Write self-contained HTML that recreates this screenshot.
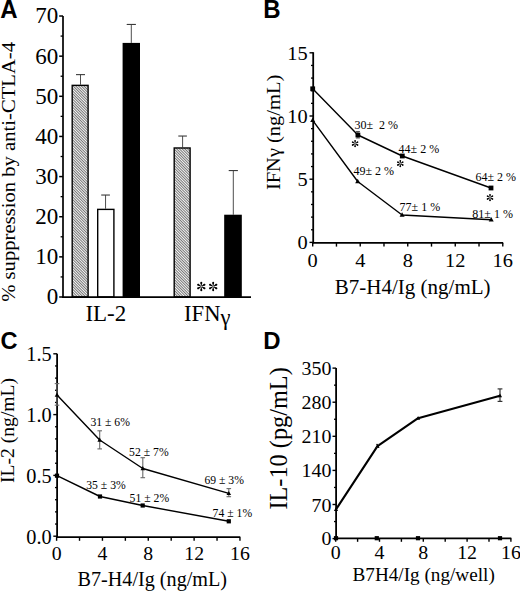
<!DOCTYPE html>
<html><head><meta charset="utf-8"><title>Figure</title>
<style>
html,body{margin:0;padding:0;background:#fff;}
body{width:520px;height:591px;overflow:hidden;}
svg{display:block;}
</style></head><body>
<svg width="520" height="591" viewBox="0 0 520 591" font-family="Liberation Serif, serif">
<defs>
<pattern id="hatch" patternUnits="userSpaceOnUse" width="1.92" height="4" patternTransform="rotate(-45)">
<rect width="1.92" height="4" fill="#f4f4f4"/>
<rect width="0.85" height="4" fill="#666"/>
</pattern>
</defs>
<rect width="520" height="591" fill="#fff"/>
<text transform="translate(0.3 17.8) scale(1 1.05)" font-size="24" font-family="Liberation Sans, sans-serif" font-weight="bold">A</text>
<line x1="80.5" y1="84.66" x2="80.5" y2="74.62" stroke="#3a3a3a" stroke-width="0.9"/>
<line x1="76" y1="74.62" x2="85" y2="74.62" stroke="#3a3a3a" stroke-width="1.1"/>
<rect x="72.2" y="85.36" width="15.9" height="211.64" fill="url(#hatch)" stroke="#000" stroke-width="1.4"/>
<line x1="105.55" y1="208.69" x2="105.55" y2="195.04" stroke="#3a3a3a" stroke-width="0.9"/>
<line x1="101.2" y1="195.04" x2="109.9" y2="195.04" stroke="#3a3a3a" stroke-width="1.1"/>
<rect x="97.7" y="209.39" width="16.2" height="87.61" fill="#fff" stroke="#000" stroke-width="1.4"/>
<line x1="131.3" y1="42.91" x2="131.3" y2="24.45" stroke="#3a3a3a" stroke-width="0.9"/>
<line x1="126.7" y1="24.45" x2="135.9" y2="24.45" stroke="#3a3a3a" stroke-width="1.1"/>
<rect x="123.3" y="43.61" width="16" height="253.39" fill="#000" stroke="#000" stroke-width="1.4"/>
<line x1="182.6" y1="147.28" x2="182.6" y2="136.04" stroke="#3a3a3a" stroke-width="0.9"/>
<line x1="178.3" y1="136.04" x2="186.9" y2="136.04" stroke="#3a3a3a" stroke-width="1.1"/>
<rect x="174.2" y="147.98" width="15.9" height="149.02" fill="url(#hatch)" stroke="#000" stroke-width="1.4"/>
<line x1="233.3" y1="214.71" x2="233.3" y2="170.56" stroke="#3a3a3a" stroke-width="0.9"/>
<line x1="228.7" y1="170.56" x2="237.9" y2="170.56" stroke="#3a3a3a" stroke-width="1.1"/>
<rect x="224.9" y="215.41" width="16.2" height="81.59" fill="#000" stroke="#000" stroke-width="1.4"/>
<line x1="63" y1="16" x2="63" y2="298" stroke="#000" stroke-width="1.7"/>
<line x1="62.2" y1="297.2" x2="251" y2="297.2" stroke="#000" stroke-width="1.8"/>
<line x1="59.2" y1="297" x2="63" y2="297" stroke="#000" stroke-width="1.5"/>
<text transform="translate(58.2 304.4) scale(1 1.04)" font-size="23" text-anchor="end">0</text>
<line x1="59.2" y1="256.86" x2="63" y2="256.86" stroke="#000" stroke-width="1.5"/>
<text transform="translate(58.2 264.26) scale(1 1.04)" font-size="23" text-anchor="end">10</text>
<line x1="59.2" y1="216.72" x2="63" y2="216.72" stroke="#000" stroke-width="1.5"/>
<text transform="translate(58.2 224.12) scale(1 1.04)" font-size="23" text-anchor="end">20</text>
<line x1="59.2" y1="176.58" x2="63" y2="176.58" stroke="#000" stroke-width="1.5"/>
<text transform="translate(58.2 183.98) scale(1 1.04)" font-size="23" text-anchor="end">30</text>
<line x1="59.2" y1="136.44" x2="63" y2="136.44" stroke="#000" stroke-width="1.5"/>
<text transform="translate(58.2 143.84) scale(1 1.04)" font-size="23" text-anchor="end">40</text>
<line x1="59.2" y1="96.3" x2="63" y2="96.3" stroke="#000" stroke-width="1.5"/>
<text transform="translate(58.2 103.7) scale(1 1.04)" font-size="23" text-anchor="end">50</text>
<line x1="59.2" y1="56.16" x2="63" y2="56.16" stroke="#000" stroke-width="1.5"/>
<text transform="translate(58.2 63.56) scale(1 1.04)" font-size="23" text-anchor="end">60</text>
<line x1="59.2" y1="16.02" x2="63" y2="16.02" stroke="#000" stroke-width="1.5"/>
<text transform="translate(58.2 23.42) scale(1 1.04)" font-size="23" text-anchor="end">70</text>
<line x1="60.6" y1="276.93" x2="63" y2="276.93" stroke="#000" stroke-width="1.3"/>
<line x1="60.6" y1="236.79" x2="63" y2="236.79" stroke="#000" stroke-width="1.3"/>
<line x1="60.6" y1="196.65" x2="63" y2="196.65" stroke="#000" stroke-width="1.3"/>
<line x1="60.6" y1="156.51" x2="63" y2="156.51" stroke="#000" stroke-width="1.3"/>
<line x1="60.6" y1="116.37" x2="63" y2="116.37" stroke="#000" stroke-width="1.3"/>
<line x1="60.6" y1="76.23" x2="63" y2="76.23" stroke="#000" stroke-width="1.3"/>
<line x1="60.6" y1="36.09" x2="63" y2="36.09" stroke="#000" stroke-width="1.3"/>
<g transform="translate(201.3 286.5) scale(1 1)" fill="#000">
<g transform="rotate(-90)"><polygon points="0.4,-0.22 3.75,-0.95 3.75,0.95 0.4,0.22"/><circle cx="3.75" cy="0" r="0.95"/></g>
<g transform="rotate(90)"><polygon points="0.4,-0.22 3.75,-0.95 3.75,0.95 0.4,0.22"/><circle cx="3.75" cy="0" r="0.95"/></g>
<g transform="rotate(-30)"><polygon points="0.4,-0.22 3.75,-0.95 3.75,0.95 0.4,0.22"/><circle cx="3.75" cy="0" r="0.95"/></g>
<g transform="rotate(30)"><polygon points="0.4,-0.22 3.75,-0.95 3.75,0.95 0.4,0.22"/><circle cx="3.75" cy="0" r="0.95"/></g>
<g transform="rotate(150)"><polygon points="0.4,-0.22 3.75,-0.95 3.75,0.95 0.4,0.22"/><circle cx="3.75" cy="0" r="0.95"/></g>
<g transform="rotate(210)"><polygon points="0.4,-0.22 3.75,-0.95 3.75,0.95 0.4,0.22"/><circle cx="3.75" cy="0" r="0.95"/></g>
</g>
<g transform="translate(213.2 286.5) scale(1 1)" fill="#000">
<g transform="rotate(-90)"><polygon points="0.4,-0.22 3.75,-0.95 3.75,0.95 0.4,0.22"/><circle cx="3.75" cy="0" r="0.95"/></g>
<g transform="rotate(90)"><polygon points="0.4,-0.22 3.75,-0.95 3.75,0.95 0.4,0.22"/><circle cx="3.75" cy="0" r="0.95"/></g>
<g transform="rotate(-30)"><polygon points="0.4,-0.22 3.75,-0.95 3.75,0.95 0.4,0.22"/><circle cx="3.75" cy="0" r="0.95"/></g>
<g transform="rotate(30)"><polygon points="0.4,-0.22 3.75,-0.95 3.75,0.95 0.4,0.22"/><circle cx="3.75" cy="0" r="0.95"/></g>
<g transform="rotate(150)"><polygon points="0.4,-0.22 3.75,-0.95 3.75,0.95 0.4,0.22"/><circle cx="3.75" cy="0" r="0.95"/></g>
<g transform="rotate(210)"><polygon points="0.4,-0.22 3.75,-0.95 3.75,0.95 0.4,0.22"/><circle cx="3.75" cy="0" r="0.95"/></g>
</g>
<text transform="translate(85.4 321.2)" font-size="23">IL-2</text>
<text transform="translate(184.1 321.2)" font-size="22.6">IFN<tspan dy="3.5">&#947;</tspan></text>
<text transform="translate(14.6 301.8) rotate(-90) scale(1.06 1)" font-size="19.5">% suppression by anti-CTLA-4</text>
<text transform="translate(263.3 17.6) scale(1 1.06)" font-size="24" font-family="Liberation Sans, sans-serif" font-weight="bold">B</text>
<line x1="313.2" y1="52.2" x2="313.2" y2="243.4" stroke="#000" stroke-width="1.8"/>
<line x1="312.3" y1="242.9" x2="503.2" y2="242.9" stroke="#000" stroke-width="1.8"/>
<line x1="309.5" y1="242.4" x2="313.2" y2="242.4" stroke="#000" stroke-width="1.4"/>
<text transform="translate(307.6 249.2) scale(1.05 1)" font-size="19.4" text-anchor="end">0</text>
<line x1="311" y1="229.76" x2="313.2" y2="229.76" stroke="#000" stroke-width="1.3"/>
<line x1="311" y1="217.12" x2="313.2" y2="217.12" stroke="#000" stroke-width="1.3"/>
<line x1="311" y1="204.48" x2="313.2" y2="204.48" stroke="#000" stroke-width="1.3"/>
<line x1="311" y1="191.84" x2="313.2" y2="191.84" stroke="#000" stroke-width="1.3"/>
<line x1="309.5" y1="179.2" x2="313.2" y2="179.2" stroke="#000" stroke-width="1.4"/>
<text transform="translate(307.6 186) scale(1.05 1)" font-size="19.4" text-anchor="end">5</text>
<line x1="311" y1="166.56" x2="313.2" y2="166.56" stroke="#000" stroke-width="1.3"/>
<line x1="311" y1="153.92" x2="313.2" y2="153.92" stroke="#000" stroke-width="1.3"/>
<line x1="311" y1="141.28" x2="313.2" y2="141.28" stroke="#000" stroke-width="1.3"/>
<line x1="311" y1="128.64" x2="313.2" y2="128.64" stroke="#000" stroke-width="1.3"/>
<line x1="309.5" y1="116" x2="313.2" y2="116" stroke="#000" stroke-width="1.4"/>
<text transform="translate(307.6 122.8) scale(1.05 1)" font-size="19.4" text-anchor="end">10</text>
<line x1="311" y1="103.36" x2="313.2" y2="103.36" stroke="#000" stroke-width="1.3"/>
<line x1="311" y1="90.72" x2="313.2" y2="90.72" stroke="#000" stroke-width="1.3"/>
<line x1="311" y1="78.08" x2="313.2" y2="78.08" stroke="#000" stroke-width="1.3"/>
<line x1="311" y1="65.44" x2="313.2" y2="65.44" stroke="#000" stroke-width="1.3"/>
<line x1="309.5" y1="52.8" x2="313.2" y2="52.8" stroke="#000" stroke-width="1.4"/>
<text transform="translate(307.6 59.6) scale(1.05 1)" font-size="19.4" text-anchor="end">15</text>
<line x1="312.7" y1="242.9" x2="312.7" y2="246.6" stroke="#000" stroke-width="1.4"/>
<text transform="translate(312.7 266.6) scale(1.05 1)" font-size="19.4" text-anchor="middle">0</text>
<line x1="336.46" y1="242.9" x2="336.46" y2="246.6" stroke="#000" stroke-width="1.4"/>
<line x1="360.22" y1="242.9" x2="360.22" y2="246.6" stroke="#000" stroke-width="1.4"/>
<text transform="translate(360.22 266.6) scale(1.05 1)" font-size="19.4" text-anchor="middle">4</text>
<line x1="383.98" y1="242.9" x2="383.98" y2="246.6" stroke="#000" stroke-width="1.4"/>
<line x1="407.74" y1="242.9" x2="407.74" y2="246.6" stroke="#000" stroke-width="1.4"/>
<text transform="translate(407.74 266.6) scale(1.05 1)" font-size="19.4" text-anchor="middle">8</text>
<line x1="431.5" y1="242.9" x2="431.5" y2="246.6" stroke="#000" stroke-width="1.4"/>
<line x1="455.26" y1="242.9" x2="455.26" y2="246.6" stroke="#000" stroke-width="1.4"/>
<text transform="translate(455.26 266.6) scale(1.05 1)" font-size="19.4" text-anchor="middle">12</text>
<line x1="479.02" y1="242.9" x2="479.02" y2="246.6" stroke="#000" stroke-width="1.4"/>
<line x1="502.78" y1="242.9" x2="502.78" y2="246.6" stroke="#000" stroke-width="1.4"/>
<text transform="translate(502.78 266.6) scale(1.05 1)" font-size="19.4" text-anchor="middle">16</text>
<text transform="translate(334.8 293.9) scale(1.02 1)" font-size="20.6">B7-H4/Ig (ng/mL)</text>
<text transform="translate(280 190.1) rotate(-90) scale(1.05 1)" font-size="19.5">IFN&#947; (ng/mL)</text>
<polyline fill="none" stroke="#000" stroke-width="1.4" stroke-linejoin="round" points="312.7,88.8 357.9,135 402.3,156 491,188"/>
<polyline fill="none" stroke="#000" stroke-width="1.4" stroke-linejoin="round" points="312.7,120.3 357.7,181.5 402.1,215 491.2,219.8"/>
<line x1="357.9" y1="131.5" x2="357.9" y2="138" stroke="#555" stroke-width="1"/>
<line x1="355.9" y1="131.5" x2="359.9" y2="131.5" stroke="#555" stroke-width="1"/>
<line x1="355.9" y1="138" x2="359.9" y2="138" stroke="#555" stroke-width="1"/>
<rect x="310.3" y="86.4" width="4.8" height="4.8" fill="#000"/>
<rect x="355.5" y="132.6" width="4.8" height="4.8" fill="#000"/>
<rect x="399.9" y="153.6" width="4.8" height="4.8" fill="#000"/>
<rect x="488.6" y="185.6" width="4.8" height="4.8" fill="#000"/>
<polygon points="312.7,117.6 310.2,122.1 315.2,122.1" fill="#000"/>
<polygon points="357.7,178.8 355.2,183.3 360.2,183.3" fill="#000"/>
<polygon points="402.1,212.3 399.6,216.8 404.6,216.8" fill="#000"/>
<polygon points="491.2,217.1 488.7,221.6 493.7,221.6" fill="#000"/>
<text transform="translate(354.4 128.9)" font-size="12">30±&#160; 2 %</text>
<text transform="translate(398.6 152.7)" font-size="12">44± 2 %</text>
<text transform="translate(475.4 180.9)" font-size="12">64± 2 %</text>
<text transform="translate(353.4 174.7)" font-size="12">49± 2 %</text>
<text transform="translate(399.6 211.1)" font-size="12">77± 1 %</text>
<text transform="translate(472.3 217.5)" font-size="12">81± 1 %</text>
<g transform="translate(355.1 143.6) scale(1 1)" fill="#000">
<g transform="rotate(-90)"><polygon points="0.4,-0.22 2.9,-0.8 2.9,0.8 0.4,0.22"/><circle cx="2.9" cy="0" r="0.8"/></g>
<g transform="rotate(90)"><polygon points="0.4,-0.22 2.9,-0.8 2.9,0.8 0.4,0.22"/><circle cx="2.9" cy="0" r="0.8"/></g>
<g transform="rotate(-30)"><polygon points="0.4,-0.22 2.9,-0.8 2.9,0.8 0.4,0.22"/><circle cx="2.9" cy="0" r="0.8"/></g>
<g transform="rotate(30)"><polygon points="0.4,-0.22 2.9,-0.8 2.9,0.8 0.4,0.22"/><circle cx="2.9" cy="0" r="0.8"/></g>
<g transform="rotate(150)"><polygon points="0.4,-0.22 2.9,-0.8 2.9,0.8 0.4,0.22"/><circle cx="2.9" cy="0" r="0.8"/></g>
<g transform="rotate(210)"><polygon points="0.4,-0.22 2.9,-0.8 2.9,0.8 0.4,0.22"/><circle cx="2.9" cy="0" r="0.8"/></g>
</g>
<g transform="translate(400.3 163.6) scale(1 1)" fill="#000">
<g transform="rotate(-90)"><polygon points="0.4,-0.22 2.9,-0.8 2.9,0.8 0.4,0.22"/><circle cx="2.9" cy="0" r="0.8"/></g>
<g transform="rotate(90)"><polygon points="0.4,-0.22 2.9,-0.8 2.9,0.8 0.4,0.22"/><circle cx="2.9" cy="0" r="0.8"/></g>
<g transform="rotate(-30)"><polygon points="0.4,-0.22 2.9,-0.8 2.9,0.8 0.4,0.22"/><circle cx="2.9" cy="0" r="0.8"/></g>
<g transform="rotate(30)"><polygon points="0.4,-0.22 2.9,-0.8 2.9,0.8 0.4,0.22"/><circle cx="2.9" cy="0" r="0.8"/></g>
<g transform="rotate(150)"><polygon points="0.4,-0.22 2.9,-0.8 2.9,0.8 0.4,0.22"/><circle cx="2.9" cy="0" r="0.8"/></g>
<g transform="rotate(210)"><polygon points="0.4,-0.22 2.9,-0.8 2.9,0.8 0.4,0.22"/><circle cx="2.9" cy="0" r="0.8"/></g>
</g>
<g transform="translate(490 197.6) scale(1 1)" fill="#000">
<g transform="rotate(-90)"><polygon points="0.4,-0.22 2.9,-0.8 2.9,0.8 0.4,0.22"/><circle cx="2.9" cy="0" r="0.8"/></g>
<g transform="rotate(90)"><polygon points="0.4,-0.22 2.9,-0.8 2.9,0.8 0.4,0.22"/><circle cx="2.9" cy="0" r="0.8"/></g>
<g transform="rotate(-30)"><polygon points="0.4,-0.22 2.9,-0.8 2.9,0.8 0.4,0.22"/><circle cx="2.9" cy="0" r="0.8"/></g>
<g transform="rotate(30)"><polygon points="0.4,-0.22 2.9,-0.8 2.9,0.8 0.4,0.22"/><circle cx="2.9" cy="0" r="0.8"/></g>
<g transform="rotate(150)"><polygon points="0.4,-0.22 2.9,-0.8 2.9,0.8 0.4,0.22"/><circle cx="2.9" cy="0" r="0.8"/></g>
<g transform="rotate(210)"><polygon points="0.4,-0.22 2.9,-0.8 2.9,0.8 0.4,0.22"/><circle cx="2.9" cy="0" r="0.8"/></g>
</g>
<text transform="translate(0.6 348.5) scale(1 1.04)" font-size="23.6" font-family="Liberation Sans, sans-serif" font-weight="bold">C</text>
<line x1="57.1" y1="353.8" x2="57.1" y2="538" stroke="#000" stroke-width="1.8"/>
<line x1="56.2" y1="537.2" x2="240.3" y2="537.2" stroke="#000" stroke-width="1.8"/>
<line x1="53.3" y1="536.2" x2="57.1" y2="536.2" stroke="#000" stroke-width="1.4"/>
<text transform="translate(51.6 543.5) scale(0.99 1)" font-size="20.5" text-anchor="end">0.0</text>
<line x1="55" y1="524.04" x2="57.1" y2="524.04" stroke="#000" stroke-width="1.3"/>
<line x1="55" y1="511.88" x2="57.1" y2="511.88" stroke="#000" stroke-width="1.3"/>
<line x1="55" y1="499.72" x2="57.1" y2="499.72" stroke="#000" stroke-width="1.3"/>
<line x1="55" y1="487.56" x2="57.1" y2="487.56" stroke="#000" stroke-width="1.3"/>
<line x1="53.3" y1="475.4" x2="57.1" y2="475.4" stroke="#000" stroke-width="1.4"/>
<text transform="translate(51.6 482.7) scale(0.99 1)" font-size="20.5" text-anchor="end">0.5</text>
<line x1="55" y1="463.24" x2="57.1" y2="463.24" stroke="#000" stroke-width="1.3"/>
<line x1="55" y1="451.08" x2="57.1" y2="451.08" stroke="#000" stroke-width="1.3"/>
<line x1="55" y1="438.92" x2="57.1" y2="438.92" stroke="#000" stroke-width="1.3"/>
<line x1="55" y1="426.76" x2="57.1" y2="426.76" stroke="#000" stroke-width="1.3"/>
<line x1="53.3" y1="414.6" x2="57.1" y2="414.6" stroke="#000" stroke-width="1.4"/>
<text transform="translate(51.6 421.9) scale(0.99 1)" font-size="20.5" text-anchor="end">1.0</text>
<line x1="55" y1="402.44" x2="57.1" y2="402.44" stroke="#000" stroke-width="1.3"/>
<line x1="55" y1="390.28" x2="57.1" y2="390.28" stroke="#000" stroke-width="1.3"/>
<line x1="55" y1="378.12" x2="57.1" y2="378.12" stroke="#000" stroke-width="1.3"/>
<line x1="55" y1="365.96" x2="57.1" y2="365.96" stroke="#000" stroke-width="1.3"/>
<line x1="53.3" y1="353.8" x2="57.1" y2="353.8" stroke="#000" stroke-width="1.4"/>
<text transform="translate(51.6 361.1) scale(0.99 1)" font-size="20.5" text-anchor="end">1.5</text>
<line x1="56.6" y1="537.2" x2="56.6" y2="540.8" stroke="#000" stroke-width="1.4"/>
<text transform="translate(56.6 559.8) scale(1.02 1)" font-size="19.4" text-anchor="middle">0</text>
<line x1="79.52" y1="537.2" x2="79.52" y2="540.8" stroke="#000" stroke-width="1.4"/>
<line x1="102.44" y1="537.2" x2="102.44" y2="540.8" stroke="#000" stroke-width="1.4"/>
<text transform="translate(102.44 559.8) scale(1.02 1)" font-size="19.4" text-anchor="middle">4</text>
<line x1="125.36" y1="537.2" x2="125.36" y2="540.8" stroke="#000" stroke-width="1.4"/>
<line x1="148.28" y1="537.2" x2="148.28" y2="540.8" stroke="#000" stroke-width="1.4"/>
<text transform="translate(148.28 559.8) scale(1.02 1)" font-size="19.4" text-anchor="middle">8</text>
<line x1="171.2" y1="537.2" x2="171.2" y2="540.8" stroke="#000" stroke-width="1.4"/>
<line x1="194.12" y1="537.2" x2="194.12" y2="540.8" stroke="#000" stroke-width="1.4"/>
<text transform="translate(194.12 559.8) scale(1.02 1)" font-size="19.4" text-anchor="middle">12</text>
<line x1="217.04" y1="537.2" x2="217.04" y2="540.8" stroke="#000" stroke-width="1.4"/>
<line x1="239.96" y1="537.2" x2="239.96" y2="540.8" stroke="#000" stroke-width="1.4"/>
<text transform="translate(239.96 559.8) scale(1.02 1)" font-size="19.4" text-anchor="middle">16</text>
<text transform="translate(77.5 586.4) scale(0.98 1)" font-size="20.6">B7-H4/Ig (ng/mL)</text>
<text transform="translate(14 482.9) rotate(-90) scale(1.01 1)" font-size="19.4">IL-2 (ng/mL)</text>
<polyline fill="none" stroke="#000" stroke-width="1.4" stroke-linejoin="round" points="57,395.1 99.7,440 142.8,468.5 228.8,493.4"/>
<polyline fill="none" stroke="#000" stroke-width="1.4" stroke-linejoin="round" points="57,475.7 100,496.5 142.7,505.5 228.8,521.3"/>
<line x1="57" y1="383.6" x2="57" y2="405.2" stroke="#6a6a6a" stroke-width="1.1"/>
<line x1="54.7" y1="383.6" x2="59.3" y2="383.6" stroke="#6a6a6a" stroke-width="1.1"/>
<line x1="54.7" y1="405.2" x2="59.3" y2="405.2" stroke="#6a6a6a" stroke-width="1.1"/>
<line x1="99.7" y1="430.8" x2="99.7" y2="448.9" stroke="#6a6a6a" stroke-width="1.1"/>
<line x1="97.4" y1="430.8" x2="102" y2="430.8" stroke="#6a6a6a" stroke-width="1.1"/>
<line x1="97.4" y1="448.9" x2="102" y2="448.9" stroke="#6a6a6a" stroke-width="1.1"/>
<line x1="142.8" y1="457.7" x2="142.8" y2="477.7" stroke="#6a6a6a" stroke-width="1.1"/>
<line x1="140.5" y1="457.7" x2="145.1" y2="457.7" stroke="#6a6a6a" stroke-width="1.1"/>
<line x1="140.5" y1="477.7" x2="145.1" y2="477.7" stroke="#6a6a6a" stroke-width="1.1"/>
<line x1="228.8" y1="488.6" x2="228.8" y2="496.7" stroke="#6a6a6a" stroke-width="1.1"/>
<line x1="226.5" y1="488.6" x2="231.1" y2="488.6" stroke="#6a6a6a" stroke-width="1.1"/>
<line x1="226.5" y1="496.7" x2="231.1" y2="496.7" stroke="#6a6a6a" stroke-width="1.1"/>
<polygon points="57,392.62 54.7,396.76 59.3,396.76" fill="#000"/>
<polygon points="99.7,437.52 97.4,441.66 102,441.66" fill="#000"/>
<polygon points="142.8,466.02 140.5,470.16 145.1,470.16" fill="#000"/>
<polygon points="228.8,490.92 226.5,495.06 231.1,495.06" fill="#000"/>
<rect x="54.9" y="473.6" width="4.2" height="4.2" fill="#000"/>
<rect x="97.9" y="494.4" width="4.2" height="4.2" fill="#000"/>
<rect x="140.6" y="503.4" width="4.2" height="4.2" fill="#000"/>
<rect x="226.7" y="519.2" width="4.2" height="4.2" fill="#000"/>
<text transform="translate(90.4 426)" font-size="11.7">31 ± 6%</text>
<text transform="translate(129.1 456)" font-size="11.7">52 ± 7%</text>
<text transform="translate(204.4 483.8)" font-size="11.7">69 ± 3%</text>
<text transform="translate(86.2 489.3)" font-size="11.7">35 ± 3%</text>
<text transform="translate(129.6 501.7)" font-size="11.7">51 ± 2%</text>
<text transform="translate(212.6 516.7)" font-size="11.7">74 ± 1%</text>
<text transform="translate(263.2 348.7) scale(1 1.03)" font-size="24" font-family="Liberation Sans, sans-serif" font-weight="bold">D</text>
<line x1="336.1" y1="368.1" x2="336.1" y2="539.6" stroke="#000" stroke-width="1.8"/>
<line x1="335.2" y1="538.3" x2="511.3" y2="538.3" stroke="#000" stroke-width="1.7"/>
<line x1="332.5" y1="538.6" x2="336.1" y2="538.6" stroke="#000" stroke-width="1.4"/>
<text transform="translate(331.4 545) scale(1.06 1)" font-size="18.8" text-anchor="end">0</text>
<line x1="334" y1="521.55" x2="336.1" y2="521.55" stroke="#000" stroke-width="1.3"/>
<line x1="332.5" y1="504.5" x2="336.1" y2="504.5" stroke="#000" stroke-width="1.4"/>
<text transform="translate(331.4 512.1) scale(1.06 1)" font-size="18.8" text-anchor="end">70</text>
<line x1="334" y1="487.45" x2="336.1" y2="487.45" stroke="#000" stroke-width="1.3"/>
<line x1="332.5" y1="470.41" x2="336.1" y2="470.41" stroke="#000" stroke-width="1.4"/>
<text transform="translate(331.4 476.81) scale(1.06 1)" font-size="18.8" text-anchor="end">140</text>
<line x1="334" y1="453.36" x2="336.1" y2="453.36" stroke="#000" stroke-width="1.3"/>
<line x1="332.5" y1="436.31" x2="336.1" y2="436.31" stroke="#000" stroke-width="1.4"/>
<text transform="translate(331.4 442.71) scale(1.06 1)" font-size="18.8" text-anchor="end">210</text>
<line x1="334" y1="419.26" x2="336.1" y2="419.26" stroke="#000" stroke-width="1.3"/>
<line x1="332.5" y1="402.21" x2="336.1" y2="402.21" stroke="#000" stroke-width="1.4"/>
<text transform="translate(331.4 408.61) scale(1.06 1)" font-size="18.8" text-anchor="end">280</text>
<line x1="334" y1="385.16" x2="336.1" y2="385.16" stroke="#000" stroke-width="1.3"/>
<line x1="332.5" y1="368.12" x2="336.1" y2="368.12" stroke="#000" stroke-width="1.4"/>
<text transform="translate(331.4 374.51) scale(1.06 1)" font-size="18.8" text-anchor="end">350</text>
<line x1="335.7" y1="538.3" x2="335.7" y2="541.8" stroke="#000" stroke-width="1.4"/>
<text transform="translate(335.7 559.3) scale(1.06 1)" font-size="18.8" text-anchor="middle">0</text>
<line x1="357.6" y1="538.3" x2="357.6" y2="541.8" stroke="#000" stroke-width="1.4"/>
<line x1="379.5" y1="538.3" x2="379.5" y2="541.8" stroke="#000" stroke-width="1.4"/>
<text transform="translate(379.5 559.3) scale(1.06 1)" font-size="18.8" text-anchor="middle">4</text>
<line x1="401.4" y1="538.3" x2="401.4" y2="541.8" stroke="#000" stroke-width="1.4"/>
<line x1="423.3" y1="538.3" x2="423.3" y2="541.8" stroke="#000" stroke-width="1.4"/>
<text transform="translate(423.3 559.3) scale(1.06 1)" font-size="18.8" text-anchor="middle">8</text>
<line x1="445.2" y1="538.3" x2="445.2" y2="541.8" stroke="#000" stroke-width="1.4"/>
<line x1="467.1" y1="538.3" x2="467.1" y2="541.8" stroke="#000" stroke-width="1.4"/>
<text transform="translate(467.1 559.3) scale(1.06 1)" font-size="18.8" text-anchor="middle">12</text>
<line x1="489" y1="538.3" x2="489" y2="541.8" stroke="#000" stroke-width="1.4"/>
<line x1="510.9" y1="538.3" x2="510.9" y2="541.8" stroke="#000" stroke-width="1.4"/>
<text transform="translate(510.9 559.3) scale(1.06 1)" font-size="18.8" text-anchor="middle">16</text>
<text transform="translate(352.5 581)" font-size="19.2">B7H4/Ig (ng/well)</text>
<text transform="translate(286.6 509.6) rotate(-90)" font-size="24.3">IL-10 (pg/mL)</text>
<polyline fill="none" stroke="#000" stroke-width="2.1" stroke-linejoin="round" points="336,509.4 377.5,446.2 418.1,418.2 500,395.7"/>
<line x1="500" y1="388.9" x2="500" y2="401.4" stroke="#333" stroke-width="1.2"/>
<line x1="497.6" y1="388.9" x2="502.4" y2="388.9" stroke="#333" stroke-width="1.2"/>
<line x1="497.6" y1="401.4" x2="502.4" y2="401.4" stroke="#333" stroke-width="1.2"/>
<line x1="377.5" y1="444.4" x2="377.5" y2="447.5" stroke="#444" stroke-width="1"/>
<line x1="376" y1="444.4" x2="379" y2="444.4" stroke="#444" stroke-width="1"/>
<line x1="376" y1="447.5" x2="379" y2="447.5" stroke="#444" stroke-width="1"/>
<polygon points="336,507.13 333.9,510.91 338.1,510.91" fill="#000"/>
<polygon points="377.5,443.93 375.4,447.71 379.6,447.71" fill="#000"/>
<polygon points="418.1,415.93 416,419.71 420.2,419.71" fill="#000"/>
<polygon points="500,393.43 497.9,397.21 502.1,397.21" fill="#000"/>
<rect x="333.9" y="536.1" width="4.2" height="4.2" fill="#000"/>
<rect x="374.7" y="536.1" width="4.2" height="4.2" fill="#000"/>
<rect x="415.9" y="536.1" width="4.2" height="4.2" fill="#000"/>
<rect x="497.9" y="536.1" width="4.2" height="4.2" fill="#000"/>
</svg>
</body></html>
